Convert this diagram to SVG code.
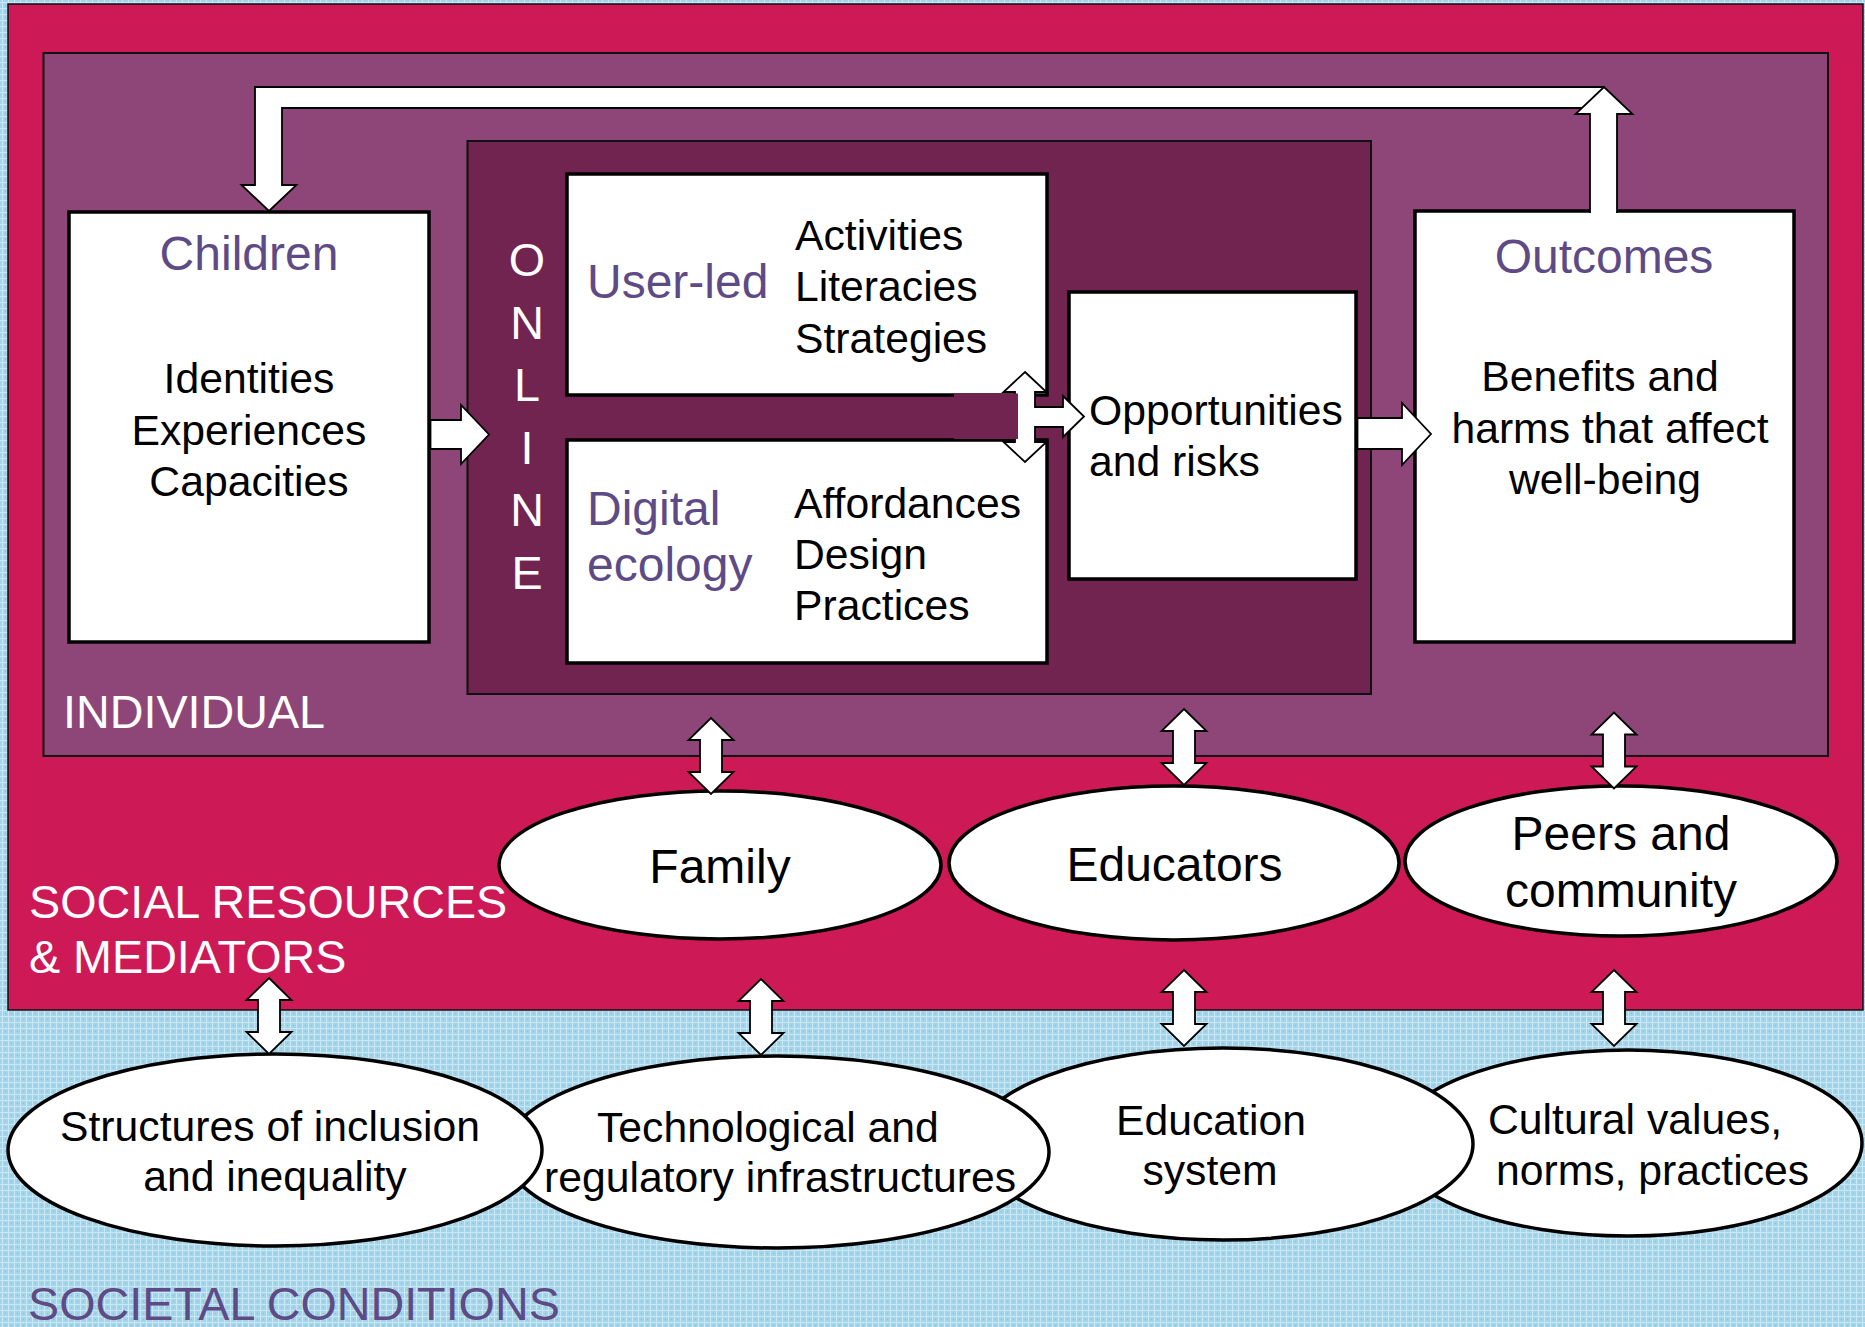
<svg xmlns="http://www.w3.org/2000/svg" xmlns:xlink="http://www.w3.org/1999/xlink" width="1865" height="1327" viewBox="0 0 1865 1327">
  <defs>
    <!-- fine light-blue weave used for the societal layer -->
    <pattern id="weave" width="6" height="6" patternUnits="userSpaceOnUse">
      <rect width="6" height="6" fill="#a3d4ea"/>
      <rect x="0" y="2" width="6" height="1" fill="#c9e8f5"/>
      <rect x="2" y="0" width="1" height="6" fill="#c9e8f5"/>
      <rect x="5" y="5" width="1" height="1" fill="#7cc0e0"/>
    </pattern>
    <!-- vertical two-headed block arrow, centred on its origin -->
    <path id="dbl" d="M0,-38 L22.5,-16 L11,-16 L11,16 L22.5,16 L0,38 L-22.5,16 L-11,16 L-11,-16 L-22.5,-16 Z"/>
    <style>
      text { font-family: "Liberation Sans", Arial, sans-serif; }
      .layer-crimson { fill: #cd1a56; stroke: #111; stroke-width: 1.5; }
      .layer-individual { fill: #8d4677; stroke: #111; stroke-width: 2; }
      .layer-online { fill: #70244f; stroke: #111; stroke-width: 2; }
      .box { fill: #fff; stroke: #000; stroke-width: 3.5; }
      .oval { fill: #fff; stroke: #000; stroke-width: 3.5; }
      .arrow { fill: #fff; stroke: #000; stroke-width: 1.8; stroke-linejoin: miter; }
      .title { fill: #5e4b86; font-size: 48px; }
      .body { fill: #000; font-size: 42.7px; }
      .oval-big { fill: #000; font-size: 48px; }
      .layer-label { fill: #fff; font-size: 46.7px; }
      .societal-label { fill: #5e4b86; font-size: 46.7px; }
      .mid { text-anchor: middle; }
    </style>
  </defs>

  <!-- societal conditions background -->
  <rect x="0" y="0" width="1865" height="1327" fill="url(#weave)"/>

  <!-- nested layers -->
  <g id="layer-social">
    <rect class="layer-crimson" x="8" y="4" width="1855" height="1006"/>
  </g>
  <g id="layer-individual">
    <rect class="layer-individual" x="43.5" y="53" width="1784.5" height="703"/>
  </g>
  <g id="layer-online">
    <rect class="layer-online" x="467.5" y="141" width="903.5" height="553"/>
    <text class="layer-label mid" x="527" y="276">O<tspan x="527" y="338.5">N</tspan><tspan x="527" y="401">L</tspan><tspan x="527" y="463.5">I</tspan><tspan x="527" y="526">N</tspan><tspan x="527" y="589">E</tspan></text>
  </g>

  <!-- individual level nodes -->
  <g id="node-children">
    <rect class="box" x="69" y="212" width="360" height="430"/>
    <text class="title mid" x="249" y="270">Children</text>
    <text class="body mid" x="249" y="393">Identities</text>
    <text class="body mid" x="249" y="444.5">Experiences</text>
    <text class="body mid" x="249" y="496">Capacities</text>
  </g>

  <g id="node-user-led">
    <rect class="box" x="567" y="174" width="480" height="221"/>
    <text class="title" x="587" y="297.5">User-led</text>
    <text class="body" x="795" y="249.5">Activities</text>
    <text class="body" x="795" y="301">Literacies</text>
    <text class="body" x="795" y="352.5">Strategies</text>
  </g>

  <g id="node-digital-ecology">
    <rect class="box" x="567" y="440" width="480" height="223"/>
    <text class="title" x="587" y="525">Digital</text>
    <text class="title" x="587" y="581">ecology</text>
    <text class="body" x="794" y="517.5">Affordances</text>
    <text class="body" x="794" y="568.5">Design</text>
    <text class="body" x="794" y="619.5">Practices</text>
  </g>

  <g id="node-opportunities">
    <rect class="box" x="1069" y="292" width="287" height="287"/>
    <text class="body" x="1089" y="425">Opportunities</text>
    <text class="body" x="1089" y="476">and risks</text>
  </g>

  <g id="node-outcomes">
    <rect class="box" x="1415" y="211" width="379" height="431"/>
    <text class="title mid" x="1604" y="273">Outcomes</text>
    <text class="body mid" x="1600" y="391">Benefits and</text>
    <text class="body mid" x="1610" y="442.5">harms that affect</text>
    <text class="body mid" x="1605" y="494">well-being</text>
  </g>

  <!-- social resources and mediators -->
  <g id="node-family">
    <ellipse class="oval" cx="720" cy="865" rx="221" ry="74"/>
    <text class="oval-big mid" x="720" y="883">Family</text>
  </g>
  <g id="node-educators">
    <ellipse class="oval" cx="1174" cy="863" rx="225" ry="77"/>
    <text class="oval-big mid" x="1174.5" y="881">Educators</text>
  </g>
  <g id="node-peers">
    <ellipse class="oval" cx="1621" cy="861" rx="216" ry="75"/>
    <text class="oval-big mid" x="1621" y="850">Peers and</text>
    <text class="oval-big mid" x="1621" y="907">community</text>
  </g>

  <!-- societal conditions (right-most drawn first so each overlaps its right neighbour) -->
  <g id="node-cultural">
    <ellipse class="oval" cx="1628" cy="1143" rx="234" ry="93"/>
    <text class="body" x="1488" y="1134">Cultural values,</text>
    <text class="body" x="1496" y="1185">norms, practices</text>
  </g>
  <g id="node-education-system">
    <ellipse class="oval" cx="1223" cy="1144" rx="250" ry="96"/>
    <text class="body mid" x="1211" y="1135">Education</text>
    <text class="body mid" x="1210" y="1185">system</text>
  </g>
  <g id="node-technological">
    <ellipse class="oval" cx="777" cy="1152" rx="272" ry="96"/>
    <text class="body" x="597" y="1142">Technological and</text>
    <text class="body" x="544" y="1192">regulatory infrastructures</text>
  </g>
  <g id="node-structures">
    <ellipse class="oval" cx="275" cy="1150" rx="267" ry="96"/>
    <text class="body mid" x="270" y="1141">Structures of inclusion</text>
    <text class="body mid" x="275" y="1191">and inequality</text>
  </g>

  <!-- layer labels -->
  <g id="labels">
    <text class="layer-label" x="63" y="728">INDIVIDUAL</text>
    <text class="layer-label" x="29" y="918">SOCIAL RESOURCES</text>
    <text class="layer-label" x="29" y="973">&amp; MEDIATORS</text>
    <text class="societal-label" x="28" y="1320">SOCIETAL CONDITIONS</text>
  </g>

  <!-- connectors -->
  <g id="connectors">
    <!-- Children to online activity -->
    <polygon class="arrow" points="430.5,420 461,420 461,405 489,434.5 461,464 461,449 430.5,449"/>
    <!-- user-led / digital ecology to opportunities and risks -->
    <polygon class="arrow" points="1025,372 1046.5,392 1035,392 1035,407 1063,407 1063,396 1084,416.5 1063,437 1063,427 1035,427 1035,442 1046.5,442 1025,462 1003.5,442 1015,442 1015,392 1003.5,392"/>
    <rect x="954" y="393.5" width="64" height="45.5" fill="#70244f"/>
    <!-- opportunities and risks to outcomes -->
    <polygon class="arrow" points="1357.5,418 1402,418 1402,403 1431,434 1402,465 1402,449 1357.5,449"/>
    <!-- feedback loop from outcomes back to children -->
    <polygon class="arrow" points="255,87 1604,87 1604,108 282,108 282,185 296.5,185 269,211 241.5,185 255,185"/>
    <path class="arrow" d="M1590,213 L1590,114 L1575.5,114 L1604,87 L1632.5,114 L1617,114 L1617,213"/>
    <!-- two-way links between layers -->
    <use xlink:href="#dbl" href="#dbl" class="arrow" x="711" y="756"/>
    <use xlink:href="#dbl" href="#dbl" class="arrow" x="1184" y="747"/>
    <use xlink:href="#dbl" href="#dbl" class="arrow" x="1614" y="750.5"/>
    <use xlink:href="#dbl" href="#dbl" class="arrow" x="269" y="1016"/>
    <use xlink:href="#dbl" href="#dbl" class="arrow" x="761" y="1017"/>
    <use xlink:href="#dbl" href="#dbl" class="arrow" x="1184" y="1008"/>
    <use xlink:href="#dbl" href="#dbl" class="arrow" x="1614" y="1008"/>
  </g>
</svg>
